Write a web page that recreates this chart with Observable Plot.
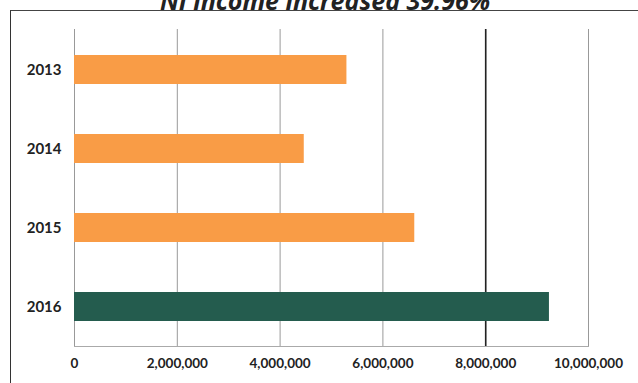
<!DOCTYPE html>
<html>
<head>
<meta charset="utf-8">
<script src="https://cdn.jsdelivr.net/npm/d3@7"></script>
<script src="https://cdn.jsdelivr.net/npm/@observablehq/plot@0.6"></script>
<style>
  html, body { margin: 0; padding: 0; background: #fff; }
  #wrap { position: relative; width: 638px; height: 383px; overflow: hidden; background: #fff; }
  #title { position: absolute; left: 0; width: 650px; top: -17px; text-align: center;
    font-family: "Open Sans", sans-serif; font-weight: bold; font-style: italic; font-size: 25px; color: #222; }
  #frame { position: absolute; left: 10px; top: 10px; width: 700px; height: 400px;
    border-left: 1.5px solid #333; border-top: 1.5px solid #444; }
  #chart { position: absolute; left: 0; top: 0; }
</style>
</head>
<body>
<div id="wrap">
  <div id="frame"></div>
  <div id="title">NI income increased 39.96%</div>
  <div id="chart"></div>
</div>
<script>
const years = ["2013", "2014", "2015", "2016"];
const incomes = [5300000, 4470000, 6620000, 9240000];
const xTicks = [0, 2000000, 4000000, 6000000, 8000000, 10000000];
const highlightYear = "2016";
const darkGridValue = [8000000];

const data = years.map((y, i) => ({year: y, income: incomes[i]}));

const chart = Plot.plot({
  width: 638,
  height: 383,
  marginLeft: 74,
  marginRight: 50,
  marginTop: 29,
  marginBottom: 37,
  style: {fontFamily: "Lato, sans-serif", fontWeight: "bold", fontSize: "12px", color: "#222", background: "transparent"},
  x: {domain: [0, 10000000], ticks: xTicks, tickFormat: d3.format(","), label: null},
  y: {domain: years, paddingInner: 0.636, paddingOuter: 0.318, label: null},
  marks: [
    Plot.gridX(xTicks, {stroke: "#999", strokeOpacity: 1, strokeWidth: 1}),
    Plot.ruleX(darkGridValue, {stroke: "#222", strokeWidth: 1.6}),
    Plot.frame({anchor: "bottom", stroke: "#aaa"}),
    Plot.barX(data, {
      y: "year", x: "income",
      fill: d => d.year === highlightYear ? "#245c4e" : "#f99c46"
    }),
    Plot.axisX({ticks: xTicks, tickFormat: d3.format(","), tickSize: 0, tickPadding: 12, fontSize: 13.5}),
    Plot.axisY({tickSize: 0, tickPadding: 13, fontSize: 15})
  ]
});
document.getElementById("chart").appendChild(chart);
</script>
</body>
</html>
